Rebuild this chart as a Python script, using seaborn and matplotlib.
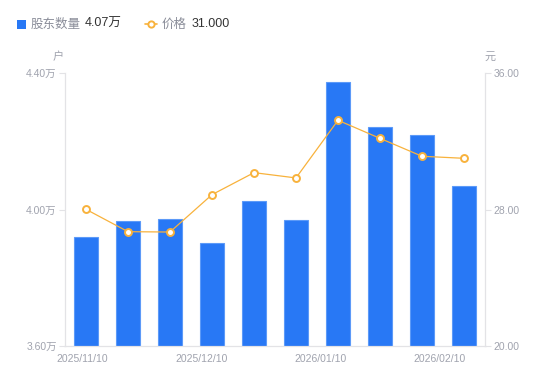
import matplotlib
matplotlib.use("Agg")
import matplotlib.pyplot as plt
import seaborn as sns
import numpy as np
import pandas as pd
from matplotlib.lines import Line2D
from matplotlib.patches import Rectangle

# ---- data ----
idx = list(range(10))
holders = [3.919, 3.965, 3.971, 3.901, 4.024, 3.970, 4.373, 4.241, 4.217, 4.069]  # 万户
price = [28.01, 26.70, 26.68, 28.87, 30.16, 29.85, 33.23, 32.17, 31.12, 31.00]  # 元
xtick_labels = ["2025/11/10", "2025/12/10", "2026/01/10", "2026/02/10"]
left_ticks = [3.60, 4.00, 4.40]
right_ticks = [20.0, 28.0, 36.0]

BLUE = "#2878F5"
ORANGE = "#F8B23C"
GRAY = "#A0A3AE"
AXC = "#E3E3E6"

sns.set_theme(style="white")
plt.rcParams["font.family"] = ["Liberation Sans", "Noto Sans CJK SC", "DejaVu Sans"]
CJK = ["Noto Sans CJK SC", "DejaVu Sans"]

fig = plt.figure(figsize=(5.5, 3.81), dpi=100)
ax = fig.add_axes([65/550, 1-346/381, 420/550, 273/381])

df = pd.DataFrame({"i": idx, "h": holders, "p": price})
sns.barplot(data=df, x="i", y="h", ax=ax, color=BLUE, width=0.58,
            saturation=1, edgecolor="#5C9AF8", linewidth=0.8)
ax.set_ylim(3.6, 4.4)
ax.set_xlim(-0.5, 9.5)
ax.set_yticks(left_ticks)
ax.set_yticklabels([f"{v:.2f}万" for v in left_ticks], color=GRAY, fontsize=7.5)
ax.set_xticks(np.linspace(-0.1, 8.43, 4))
ax.set_xticklabels(xtick_labels, color=GRAY, fontsize=7.5)
ax.set_xlabel("")
ax.set_ylabel("")
ax.tick_params(axis="y", length=4, color=AXC, width=0.8, pad=2)
ax.tick_params(axis="x", length=0, pad=6)
for s in ["left", "bottom", "right"]:
    ax.spines[s].set_color(AXC)
    ax.spines[s].set_linewidth(0.8)
ax.spines["top"].set_visible(False)

ax2 = ax.twinx()
sns.lineplot(data=df, x="i", y="p", ax=ax2, color=ORANGE, linewidth=0.9,
             marker="o", markersize=5, markerfacecolor="white",
             markeredgecolor=ORANGE, markeredgewidth=1.4)
ax2.set_ylim(20, 36)
ax2.set_yticks(right_ticks)
ax2.set_yticklabels([f"{v:.2f}" for v in right_ticks], color=GRAY, fontsize=7.5)
ax2.set_ylabel("")
ax2.set_xlabel("")
ax2.tick_params(axis="y", length=4, color=AXC, width=0.8, pad=2)
for s in ["left", "bottom", "right"]:
    ax2.spines[s].set_color(AXC)
    ax2.spines[s].set_linewidth(0.8)
ax2.spines["top"].set_visible(False)
ax.set_xlim(-0.5, 9.5)

# unit labels
fig.text(58/550, 1-57/381, "户", color=GRAY, fontsize=8, ha="center", va="center", family=CJK)
fig.text(490/550, 1-57/381, "元", color=GRAY, fontsize=8, ha="center", va="center", family=CJK)

# legend
fig.patches.append(Rectangle((17/550, 1-29/381), 9/550, 9/381, transform=fig.transFigure,
                             facecolor=BLUE, edgecolor="none", figure=fig))
fig.text(31/550, 1-24/381, "股东数量", color="#8A8D99", fontsize=9, va="center", family=CJK)
fig.text(85/550, 1-24/381, "4.07万", color="#333333", fontsize=9, va="center")
fig.lines.append(Line2D([145/550, 157/550], [1-24/381, 1-24/381], transform=fig.transFigure,
                        color=ORANGE, linewidth=1.2, figure=fig))
fig.lines.append(Line2D([151/550], [1-24/381], transform=fig.transFigure, color=ORANGE,
                        marker="o", markersize=4.5, markerfacecolor="white",
                        markeredgewidth=1.4, linestyle="none", figure=fig))
fig.text(162/550, 1-24/381, "价格", color="#8A8D99", fontsize=9, va="center", family=CJK)
fig.text(192/550, 1-24/381, "31.000", color="#333333", fontsize=9, va="center")

fig.savefig("out.png", dpi=100)
